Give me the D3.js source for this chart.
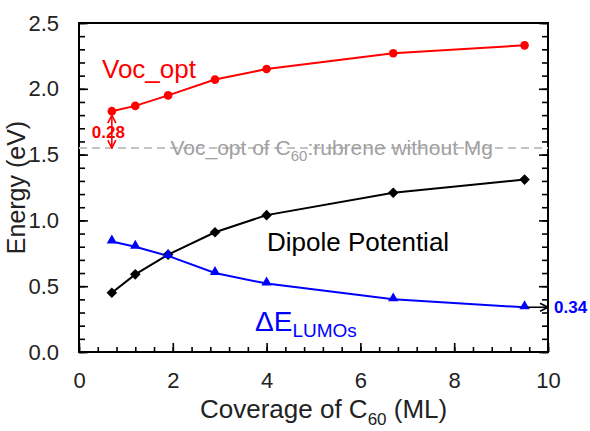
<!DOCTYPE html>
<html>
<head>
<meta charset="utf-8">
<script src="https://cdn.jsdelivr.net/npm/d3@7"></script>
<style>
  body { margin: 0; background: #fff; }
  text { font-family: "Liberation Sans", Arial, sans-serif; }
</style>
</head>
<body>
<div id="chart"></div>
<script>
// data
var coverage = [0.7, 1.2, 1.9, 2.9, 4.0, 6.7, 9.5];
var vocOpt = [1.83, 1.87, 1.95, 2.07, 2.15, 2.27, 2.33];
var dipole = [0.45, 0.59, 0.74, 0.91, 1.04, 1.21, 1.31];
var deltaLumo = [0.84, 0.80, 0.73, 0.60, 0.52, 0.40, 0.34];
var refVoc = 1.55;          // Voc_opt of C60:rubrene without Mg
var xTicks = [0, 2, 4, 6, 8, 10];
var yTicks = [0, 0.5, 1.0, 1.5, 2.0, 2.5];

var margin = { top: 23, right: 42, bottom: 79, left: 79 },
    width = 590 - margin.left - margin.right,
    height = 431 - margin.top - margin.bottom;

var svg = d3.select("#chart").append("svg")
    .attr("width", 590)
    .attr("height", 431);

var defs = svg.append("defs");
function openArrow(id, color) {
    defs.append("marker")
        .attr("id", id)
        .attr("viewBox", "0 0 10 10")
        .attr("refX", 9).attr("refY", 5)
        .attr("markerWidth", 10).attr("markerHeight", 10)
        .attr("markerUnits", "userSpaceOnUse")
        .attr("orient", "auto-start-reverse")
        .append("path")
        .attr("d", "M1,1 L9,5 L1,9")
        .attr("fill", "none")
        .attr("stroke", color)
        .attr("stroke-width", 1.6);
}
openArrow("arrRed", "#ff0000");
openArrow("arrBlack", "#000");

var chart = svg.append("g")
    .attr("transform", "translate(" + margin.left + "," + margin.top + ")");

var x = d3.scaleLinear().domain([0, 10]).range([0, width]);
var y = d3.scaleLinear().domain([0, 2.5]).range([height, 0]);

var xMinor = d3.range(0, 10.001, 0.4);
var yMinor = d3.range(0, 2.501, 0.1);

// minor ticks
chart.append("g")
    .attr("transform", "translate(0," + height + ")")
    .call(d3.axisBottom(x).tickValues(xMinor).tickSize(-5).tickFormat(""));
chart.append("g")
    .call(d3.axisLeft(y).tickValues(yMinor).tickSize(-6).tickFormat(""));
chart.append("g")
    .attr("transform", "translate(" + width + ",0)")
    .call(d3.axisRight(y).tickValues(yMinor).tickSize(-6).tickFormat(""));

// major ticks
var xAxis = chart.append("g")
    .attr("transform", "translate(0," + height + ")")
    .call(d3.axisBottom(x).tickValues(xTicks).tickSize(-9).tickPadding(20)
        .tickFormat(d3.format("d")));
var yAxis = chart.append("g")
    .call(d3.axisLeft(y).tickValues(yTicks).tickSize(-9).tickPadding(20)
        .tickFormat(d3.format(".1f")));
chart.append("g")
    .attr("transform", "translate(" + width + ",0)")
    .call(d3.axisRight(y).tickValues(yTicks).tickSize(-9).tickFormat(""));

chart.selectAll(".domain").remove();
chart.selectAll(".tick line").attr("stroke", "#000").attr("stroke-width", 1.6);
chart.selectAll(".tick text")
    .attr("fill", "#222")
    .style("font-size", "22px")
    .style("font-family", "Liberation Sans, Arial, sans-serif");

// frame
chart.append("rect")
    .attr("width", width).attr("height", height)
    .attr("fill", "none").attr("stroke", "#000").attr("stroke-width", 2);

// reference dashed line
chart.append("line")
    .attr("x1", 0).attr("x2", width)
    .attr("y1", y(refVoc)).attr("y2", y(refVoc))
    .attr("stroke", "#c4c4c4").attr("stroke-width", 2)
    .attr("stroke-dasharray", "8,5");

var refLabel = chart.append("text")
    .attr("x", x(1.95)).attr("y", y(refVoc) + 7)
    .attr("fill", "#a0a0a0")
    .style("font-size", "21px");
refLabel.append("tspan").text("Voc_opt of C");
refLabel.append("tspan").attr("dy", 6).style("font-size", "15px").text("60");
refLabel.append("tspan").attr("dy", -6).text(":rubrene without Mg");

// series
function drawSeries(vals, color) {
    var line = d3.line()
        .x(function (d, i) { return x(coverage[i]); })
        .y(function (d) { return y(d); });
    chart.append("path")
        .attr("d", line(vals))
        .attr("fill", "none")
        .attr("stroke", color)
        .attr("stroke-width", 2);
}
drawSeries(vocOpt, "#ff0000");
drawSeries(dipole, "#000");
drawSeries(deltaLumo, "#0000ff");

chart.selectAll(".voc").data(vocOpt).enter().append("circle")
    .attr("cx", function (d, i) { return x(coverage[i]); })
    .attr("cy", function (d) { return y(d); })
    .attr("r", 4.3)
    .attr("fill", "#ff0000");

chart.selectAll(".dip").data(dipole).enter().append("path")
    .attr("d", d3.symbol().type(d3.symbolSquare).size(56))
    .attr("transform", function (d, i) {
        return "translate(" + x(coverage[i]) + "," + y(d) + ") rotate(45)";
    })
    .attr("fill", "#000");

chart.selectAll(".lumo").data(deltaLumo).enter().append("path")
    .attr("d", d3.symbol().type(d3.symbolTriangle).size(46))
    .attr("transform", function (d, i) {
        return "translate(" + x(coverage[i]) + "," + (y(d) - 1) + ")";
    })
    .attr("fill", "#0000ff");

// 0.28 gap arrow
chart.append("line")
    .attr("x1", x(coverage[0])).attr("x2", x(coverage[0]))
    .attr("y1", y(vocOpt[0]) + 4).attr("y2", y(refVoc))
    .attr("stroke", "#ff0000").attr("stroke-width", 1.6)
    .attr("marker-start", "url(#arrRed)")
    .attr("marker-end", "url(#arrRed)");
chart.append("text")
    .attr("x", x(coverage[0]) - 20).attr("y", y(vocOpt[0]) + 27)
    .attr("fill", "#ff0000")
    .style("font-size", "17px").style("font-weight", "bold")
    .text("0.28");

// 0.34 arrow
var last = deltaLumo.length - 1;
chart.append("line")
    .attr("x1", x(coverage[last]) + 3).attr("x2", width)
    .attr("y1", y(deltaLumo[last])).attr("y2", y(deltaLumo[last]))
    .attr("stroke", "#000").attr("stroke-width", 1.6)
    .attr("marker-end", "url(#arrBlack)");
chart.append("text")
    .attr("x", width + 6).attr("y", y(deltaLumo[last]) + 6)
    .attr("fill", "#0000ff")
    .style("font-size", "17px").style("font-weight", "bold")
    .text("0.34");

// series labels
chart.append("text")
    .attr("x", 23).attr("y", 55)
    .attr("fill", "#ff0000")
    .style("font-size", "26px")
    .text("Voc_opt");

chart.append("text")
    .attr("x", 188).attr("y", 228)
    .attr("fill", "#000")
    .style("font-size", "26px")
    .text("Dipole Potential");

var lumoLabel = chart.append("text")
    .attr("x", 176).attr("y", 308)
    .attr("fill", "#0000ff")
    .style("font-size", "28px");
lumoLabel.append("tspan").text("\u0394E");
lumoLabel.append("tspan").attr("dy", 6).style("font-size", "19px").text("LUMOs");

// axis titles
var xLabel = chart.append("text")
    .attr("x", 121).attr("y", height + 66)
    .attr("fill", "#222")
    .style("font-size", "26px");
xLabel.append("tspan").text("Coverage of C");
xLabel.append("tspan").attr("dy", 7).style("font-size", "17px").text("60");
xLabel.append("tspan").attr("dy", -7).text(" (ML)");

chart.append("text")
    .attr("transform", "rotate(-90)")
    .attr("x", -height / 2).attr("y", -54)
    .attr("text-anchor", "middle")
    .attr("fill", "#222")
    .style("font-size", "25px")
    .text("Energy (eV)");
</script>
</body>
</html>
